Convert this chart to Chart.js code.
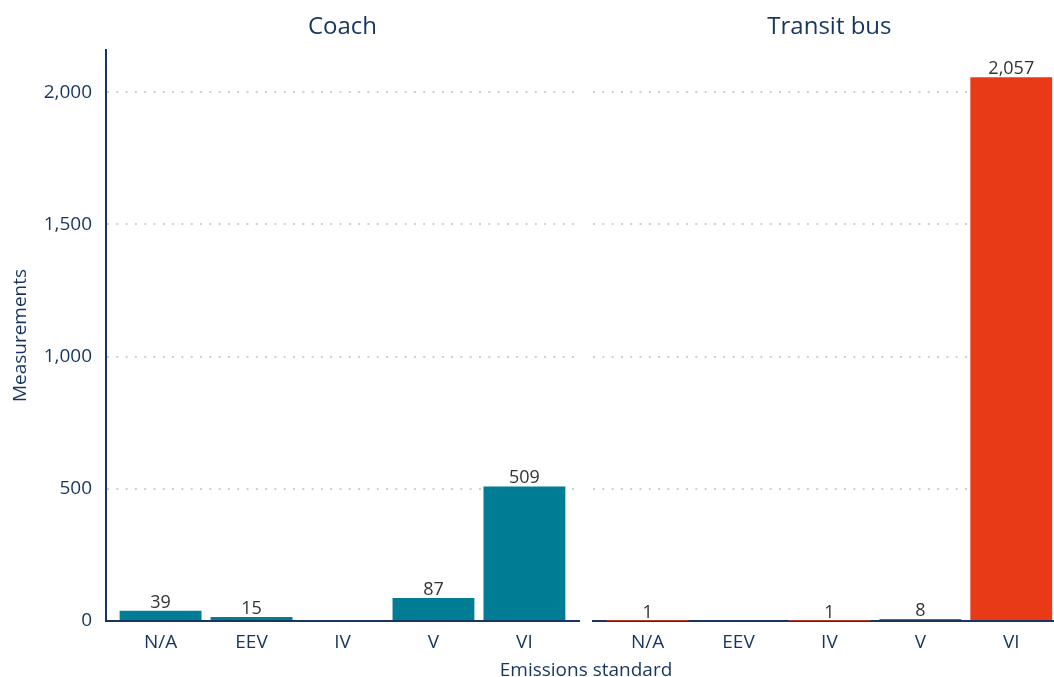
<!DOCTYPE html>
<html>
<head>
<meta charset="utf-8">
<script src="https://cdn.jsdelivr.net/npm/chart.js@4"></script>
<style>
    html, body { margin: 0; padding: 0; background: #fff; }
    #wrap { position: relative; width: 1054px; height: 677px; overflow: hidden; }
    #box-coach { position: absolute; left: 0; top: 0; width: 586px; height: 677px; }
    #box-transit { position: absolute; left: 586px; top: 0; width: 468px; height: 677px; }
    #x-title {
        position: absolute; left: 0; width: 1172px; top: 656px; text-align: center;
        font: 19px "Open Sans", sans-serif; color: #16365f;
    }
</style>
</head>
<body>
<div id="wrap">
    <div id="box-coach"><canvas id="chart-coach"></canvas></div>
    <div id="box-transit"><canvas id="chart-transit"></canvas></div>
    <div id="x-title">Emissions standard</div>
</div>
<script>
    // ── Data ─────────────────────────────────────────────────────────────────
    var categories    = ['N/A', 'EEV', 'IV', 'V', 'VI'];
    var coachValues   = [39, 15, null, 87, 509];
    var transitValues = [1, null, 1, 8, 2057];
    var yTicks        = [0, 500, 1000, 1500, 2000];
    var yMax          = 2160;

    var NAVY = '#16365f';
    var FONT = '"Open Sans", sans-serif';
    var GRID = '#cfcfcf';

    function points(values) {
        return values.map(function (v, i) { return { x: i, y: v }; });
    }

    // ── Value labels above bars ──────────────────────────────────────────────
    var valueLabels = {
        id: 'valueLabels',
        afterDatasetsDraw: function (chart) {
            var ctx = chart.ctx;
            ctx.save();
            ctx.font = '18px ' + FONT;
            ctx.fillStyle = '#333333';
            ctx.textAlign = 'center';
            ctx.textBaseline = 'alphabetic';
            chart.data.datasets.forEach(function (ds, di) {
                chart.getDatasetMeta(di).data.forEach(function (el, i) {
                    var v = ds.data[i].y;
                    if (v === null) return;
                    ctx.fillText(v.toLocaleString('en-US'), el.x, el.y - 3);
                });
            });
            ctx.restore();
        }
    };

    // ── Panel title, centred over the middle category ────────────────────────
    var panelTitle = {
        id: 'panelTitle',
        afterDraw: function (chart, args, opts) {
            var ctx = chart.ctx;
            ctx.save();
            ctx.font = '24px ' + FONT;
            ctx.fillStyle = NAVY;
            ctx.textAlign = 'center';
            ctx.textBaseline = 'middle';
            ctx.fillText(opts.text, chart.scales.x.getPixelForValue(2), 27);
            ctx.restore();
        }
    };

    function makeChart(id, title, values, color, opts) {
        return new Chart(document.getElementById(id), {
            type: 'bar',
            data: {
                datasets: [{
                    data: points(values),
                    backgroundColor: color,
                    barPercentage: 0.9,
                    categoryPercentage: 1,
                }]
            },
            options: {
                responsive: true,
                maintainAspectRatio: false,
                animation: false,
                layout: { padding: { left: opts.padLeft, right: opts.padRight, top: 50, bottom: 0 } },
                plugins: {
                    legend: { display: false },
                    tooltip: { enabled: false },
                    panelTitle: { text: title }
                },
                scales: {
                    x: {
                        type: 'linear',
                        offset: false,
                        min: -0.6, max: opts.xMax,
                        afterBuildTicks: function (s) { s.ticks = categories.map(function (c, i) { return { value: i }; }); },
                        afterFit: function (s) { s.height = 56; },
                        grid: { display: false, drawTicks: false, offset: false },
                        border: { display: true, color: NAVY, width: 2 },
                        ticks: {
                            autoSkip: false, maxRotation: 0, padding: 10, color: NAVY,
                            font: { family: FONT, size: 19 },
                            callback: function (v) { return categories[Math.round(v)]; }
                        }
                    },
                    y: {
                        min: 0, max: yMax,
                        afterBuildTicks: function (s) { s.ticks = yTicks.map(function (v) { return { value: v }; }); },
                        afterFit: function (s) { s.width = opts.yWidth; },
                        grid: {
                            drawTicks: false, lineWidth: 2,
                            color: function (c) { return c.tick && c.tick.value === 0 ? 'rgba(0,0,0,0)' : GRID; }
                        },
                        border: { display: opts.showY, color: NAVY, width: 2, dash: [2, 7.3] },
                        title: {
                            display: opts.showY, text: 'Measurements', color: NAVY,
                            font: { family: FONT, size: 19 }, padding: { top: 9, bottom: 0 }
                        },
                        ticks: {
                            display: opts.showY, padding: 14, color: NAVY,
                            font: { family: FONT, size: 19 },
                            callback: function (v) { return v.toLocaleString('en-US'); }
                        }
                    }
                }
            },
            plugins: [valueLabels, panelTitle]
        });
    }

    makeChart('chart-coach', 'Coach', coachValues, '#007c95',
        { padLeft: 0, padRight: 7, xMax: 4.6, yWidth: 106, showY: true });
    makeChart('chart-transit', 'Transit bus', transitValues, '#e83a17',
        { padLeft: 7, padRight: 0, xMax: 4.47, yWidth: 0, showY: false });
</script>
</body>
</html>
